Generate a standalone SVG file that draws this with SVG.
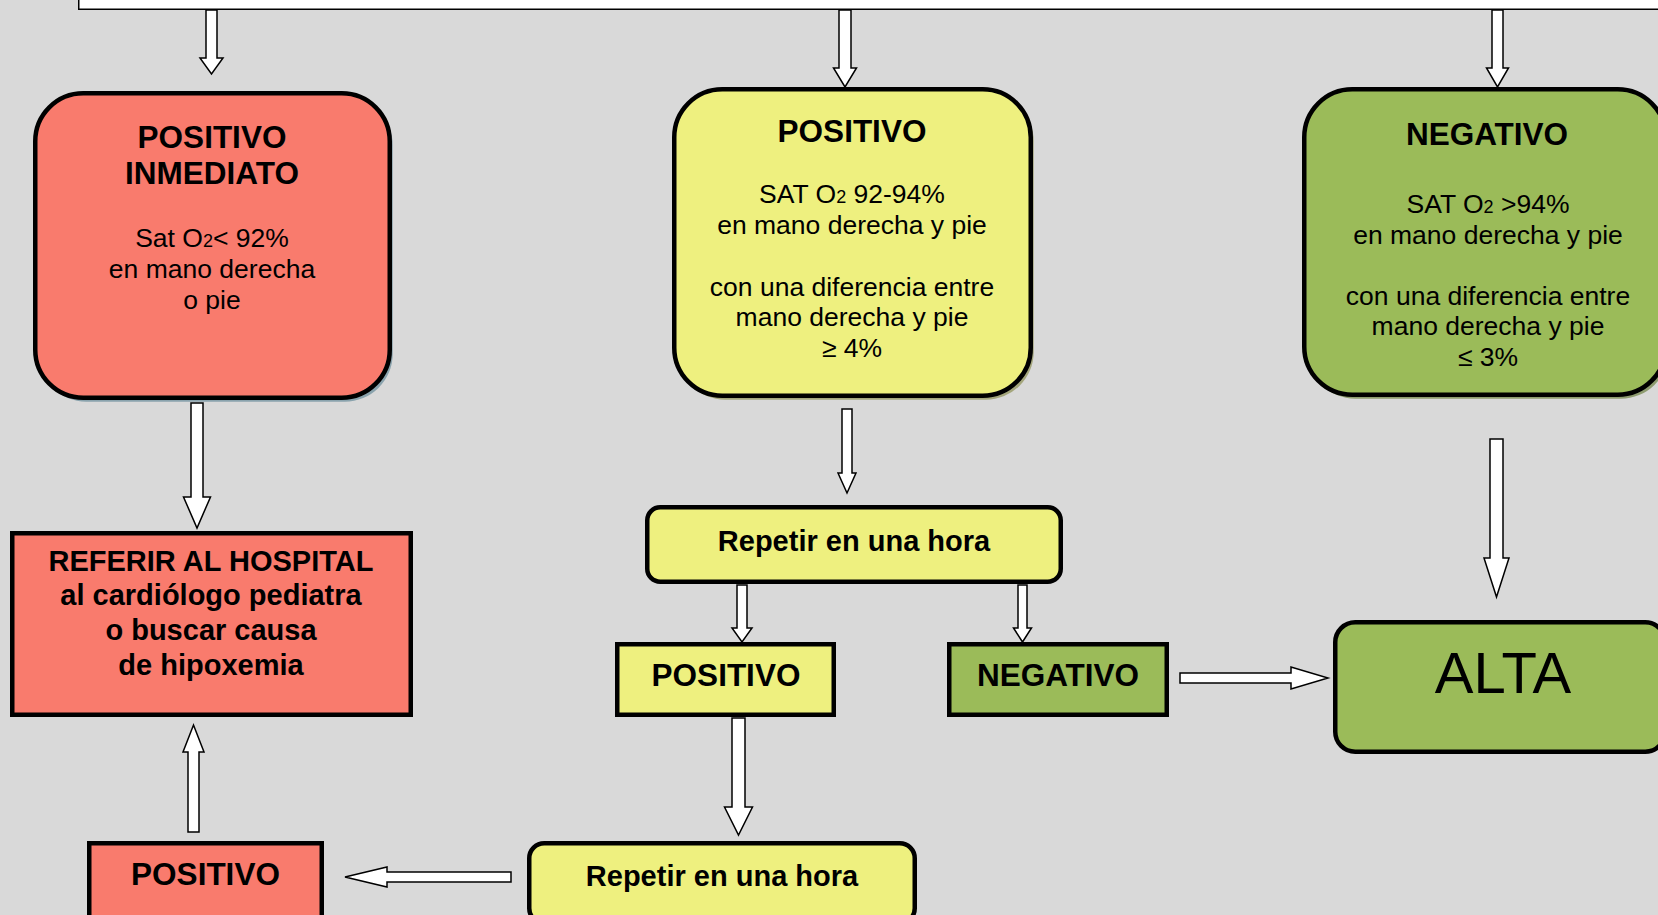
<svg xmlns="http://www.w3.org/2000/svg" width="1658" height="915" viewBox="0 0 1658 915">
<style>
.bg{fill:#D9D9D9}
.box{stroke:#000;stroke-width:4.5}
.red{fill:#F97B6D}
.yel{fill:#EEF07F}
.grn{fill:#9BBB59}
.arr{fill:#fff;stroke:#000;stroke-width:1.5;stroke-linejoin:miter}
text{font-family:"Liberation Sans",Arial,sans-serif;fill:#000;text-anchor:middle}
.t{font-weight:bold;font-size:31.5px}
.b{font-weight:bold;font-size:29px}
.r{font-size:26.5px}
.s{font-size:18px}
</style>
<rect class="bg" x="0" y="0" width="1658" height="915"/>
<g id="top">
<rect x="78.75" y="-20" width="1650" height="29.25" fill="#fff" stroke="#000" stroke-width="1.5"/>
</g>
<g id="connectors">
<polygon class="arr" points="206,10 217,10 217,58 223,58 211.5,74 200,58 206,58"/>
<polygon class="arr" points="839,10 851,10 851,68 856.5,68 845,87 833.5,68 839,68"/>
<polygon class="arr" points="1492,10 1503,10 1503,68 1508.5,68 1497.5,87 1486.5,68 1492,68"/>
<polygon class="arr" points="191,403 203,403 203,497 210.5,497 197,528 183.5,497 191,497"/>
<polygon class="arr" points="842,409 852,409 852,473 856,473 847,493 838,473 842,473"/>
<polygon class="arr" points="737,585 747,585 747,628 752,628 742,642 732,628 737,628"/>
<polygon class="arr" points="1018,585 1027,585 1027,628 1031.5,628 1022.5,642 1013.5,628 1018,628"/>
<polygon class="arr" points="732,718 745,718 745,807 752.5,807 738.5,835 724.5,807 732,807"/>
<polygon class="arr" points="1490,439 1503,439 1503,558 1509,558 1496.5,597 1484,558 1490,558"/>
<polygon class="arr" points="188,832 199,832 199,752 204,752 193.5,725 183,752 188,752"/>
<polygon class="arr" points="511,872 511,882 387,882 387,887 345,877 387,867 387,872"/>
<polygon class="arr" points="1180,673 1291,673 1291,667 1328,678 1291,689 1291,683 1180,683"/>
</g>
<g id="positivo-inmediato">
<rect x="38.25" y="97.25" width="354.5" height="304.5" rx="48" fill="#8AA3AD"/>
<rect class="box red" x="35.25" y="93.25" width="354.5" height="304.5" rx="48"/>
<text class="t" x="212" y="148">POSITIVO</text>
<text class="t" x="212" y="184">INMEDIATO</text>
<text class="r" x="212" y="247">Sat O<tspan class="s">2</tspan>&lt; 92%</text>
<text class="r" x="212" y="278">en mano derecha</text>
<text class="r" x="212" y="309">o pie</text>
</g>
<g id="positivo">
<rect x="677.25" y="93.25" width="356.5" height="306.5" rx="48" fill="#A4A67C"/>
<rect class="box yel" x="674.25" y="89.25" width="356.5" height="306.5" rx="48"/>
<text class="t" x="852" y="142">POSITIVO</text>
<text class="r" x="852" y="203">SAT O<tspan class="s">2</tspan> 92-94%</text>
<text class="r" x="852" y="234">en mano derecha y pie</text>
<text class="r" x="852" y="296">con una diferencia entre</text>
<text class="r" x="852" y="326">mano derecha y pie</text>
<text class="r" x="852" y="357">≥ 4%</text>
</g>
<g id="negativo">
<rect x="1307.25" y="93.25" width="361.5" height="305.5" rx="48" fill="#8E9C70"/>
<rect class="box grn" x="1304.25" y="89.25" width="361.5" height="305.5" rx="48"/>
<text class="t" x="1487" y="145">NEGATIVO</text>
<text class="r" x="1488" y="213">SAT O<tspan class="s">2</tspan> &gt;94%</text>
<text class="r" x="1488" y="244">en mano derecha y pie</text>
<text class="r" x="1488" y="305">con una diferencia entre</text>
<text class="r" x="1488" y="335">mano derecha y pie</text>
<text class="r" x="1488" y="366">≤ 3%</text>
</g>
<g id="referir">
<rect class="box red" x="12.25" y="533.25" width="398.5" height="181.5"/>
<text class="b" x="211" y="571">REFERIR AL HOSPITAL</text>
<text class="b" x="211" y="605">al cardiólogo pediatra</text>
<text class="b" x="211" y="640">o buscar causa</text>
<text class="b" x="211" y="675">de hipoxemia</text>
</g>
<g id="repetir1">
<rect class="box yel" x="647.25" y="507.25" width="413.5" height="74.5" rx="13"/>
<text class="b" x="854" y="551">Repetir en una hora</text>
</g>
<g id="positivo2">
<rect class="box yel" x="617.25" y="644.25" width="216.5" height="70.5"/>
<text class="t" x="726" y="686">POSITIVO</text>
</g>
<g id="negativo2">
<rect class="box grn" x="949.25" y="644.25" width="217.5" height="70.5"/>
<text class="t" x="1058" y="686">NEGATIVO</text>
</g>
<g id="alta">
<rect class="box grn" x="1335.25" y="622.25" width="330" height="129.5" rx="20"/>
<text x="1503" y="693" style="font-size:58px">ALTA</text>
</g>
<g id="positivo3">
<rect class="box red" x="89.25" y="843.25" width="232.5" height="80"/>
<text class="t" x="205.5" y="885">POSITIVO</text>
</g>
<g id="repetir2">
<rect class="box yel" x="529.25" y="843.25" width="385.5" height="80" rx="15"/>
<text class="b" x="722" y="886">Repetir en una hora</text>
</g>
</svg>
